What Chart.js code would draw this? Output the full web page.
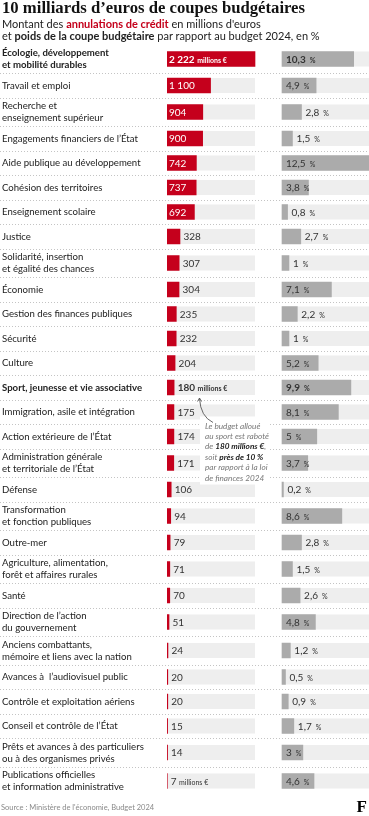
<!DOCTYPE html>
<html lang="fr">
<head>
<meta charset="utf-8">
<title>10 milliards d’euros de coupes budgétaires</title>
<script src="https://cdn.jsdelivr.net/npm/chart.js@4.4.0/dist/chart.umd.min.js"></script>
<style>
  html, body { margin: 0; padding: 0; background: #fff; }
  body { width: 369px; height: 816px; position: relative; overflow: hidden; font-family: Lato, sans-serif; }
  canvas { position: absolute; left: 0; top: 0; }
  #titre { position: absolute; left: 2px; top: -2px; margin: 0; font: bold 16.7px/20px "Liberation Serif", serif; color: #111; white-space: nowrap; }
  #sous-titre { position: absolute; left: 2px; top: 18px; margin: 0; font: 11px/12px Lato, sans-serif; color: #222; white-space: nowrap; }
  #sous-titre .rouge { color: #c4001a; font-weight: bold; }
  #sous-titre .gras { font-weight: bold; }
  #source { position: absolute; left: 1px; top: 803px; font: 7.5px Lato, sans-serif; color: #8a8a8a; white-space: nowrap; }
  #logo { position: absolute; right: 2px; top: 797px; font: bold 17px "Liberation Serif", serif; color: #000; }
</style>
</head>
<body>
<canvas id="chart" width="369" height="816"></canvas>
<h1 id="titre">10 milliards d’euros de coupes budgétaires</h1>
<p id="sous-titre">Montant des <span class="rouge">annulations de crédit</span> en millions d'euros<br>et <span class="gras">poids de la coupe budgétaire</span> par rapport au budget 2024, en %</p>
<div id="source">Source : Ministère de l'économie, Budget 2024</div>
<div id="logo">F</div>
<script>
// Missions budgétaires (libellés sur deux lignes quand il le faut)
const categories = [
  ['Écologie, développement', 'et mobilité durables'],
  'Travail et emploi',
  ['Recherche et', 'enseignement supérieur'],
  'Engagements financiers de l’État',
  'Aide publique au développement',
  'Cohésion des territoires',
  'Enseignement scolaire',
  'Justice',
  ['Solidarité, insertion', 'et égalité des chances'],
  'Économie',
  'Gestion des finances publiques',
  'Sécurité',
  'Culture',
  'Sport, jeunesse et vie associative',
  'Immigration, asile et intégration',
  'Action extérieure de l’État',
  ['Administration générale', 'et territoriale de l’État'],
  'Défense',
  ['Transformation', 'et fonction publiques'],
  'Outre-mer',
  ['Agriculture, alimentation,', 'forêt et affaires rurales'],
  'Santé',
  ['Direction de l’action', 'du gouvernement'],
  ['Anciens combattants,', 'mémoire et liens avec la nation'],
  'Avances à  l’audiovisuel public',
  'Contrôle et exploitation aériens',
  'Conseil et contrôle de l’État',
  ['Prêts et avances à des particuliers', 'ou à des organismes privés'],
  ['Publications officielles', 'et information administrative']
];

// Annulations de crédit, en millions d'euros
const credits = [2222, 1100, 904, 900, 742, 737, 692, 328, 307, 304, 235, 232, 204, 180,
  175, 174, 171, 106, 94, 79, 71, 70, 51, 24, 20, 20, 15, 14, 7];

// Poids de la coupe par rapport au budget 2024, en %
const percents = [10.3, 4.9, 2.8, 1.5, 12.5, 3.8, 0.8, 2.7, 1, 7.1, 2.2, 1, 5.2, 9.9,
  8.1, 5, 3.7, 0.2, 8.6, 2.8, 1.5, 2.6, 4.8, 1.2, 0.5, 0.9, 1.7, 3, 4.6];

// Lignes mises en avant, et lignes où l'unité est écrite
const boldRows = [0, 13];
const unitRows = [0, 13, 28];

const annotationLines = [
  [['Le budget alloué', false]],
  [['au sport est raboté', false]],
  [['de ', false], ['180 millions €', true], [',', false]],
  [['soit ', false], ['près de 10 %', true]],
  [['par rapport à la loi', false]],
  [['de finances 2024', false]]
];

/* Mise en page */
const RED = '#c5001c';
const GREY = '#ababab';
const TRACK = '#eeeeee';
const TEXT = '#333333';
const FONT = 'Lato, sans-serif';
const PLOT_LEFT = 167, RED_END = 255, GREY_START = 282, RIGHT = 369;
const ONE_LINE_H = 24.5, TWO_LINE_H = 28.5;
const BAR_H = 15;
const TOP = 44.75;

const redMax = Math.max(...credits);
const pctMax = Math.max(...percents);

/* Centre de chaque ligne, selon le nombre de lignes du libellé */
const rowHeights = categories.map(c => Array.isArray(c) ? TWO_LINE_H : ONE_LINE_H);
const rowStarts = [];
const rowCenters = [];
let acc = 0;
rowHeights.forEach(h => { rowStarts.push(acc); rowCenters.push(acc + h / 2); acc += h; });
const totalH = acc;

const fmtCredit = v => String(v).replace(/\B(?=(\d{3})+(?!\d))/g, ' ');
const fmtPct = v => String(v).replace('.', ',');

function drawValue(ctx, x, y, main, unit, gap, bold, color) {
  ctx.fillStyle = color;
  ctx.textAlign = 'left';
  ctx.textBaseline = 'middle';
  ctx.font = `${bold ? 'bold ' : ''}10px ${FONT}`;
  ctx.fillText(main, x, y);
  if (unit) {
    const w = ctx.measureText(main).width + gap;
    ctx.font = `${bold ? 'bold ' : ''}7px ${FONT}`;
    ctx.fillText(unit, x + w, y + 1);
  }
}

const decor = {
  id: 'decor',
  beforeDatasetsDraw(chart) {
    const {ctx} = chart;
    const {xa, xb, y} = chart.scales;
    ctx.save();
    /* séparateurs pointillés */
    ctx.strokeStyle = '#c4c4c4';
    ctx.lineWidth = 1;
    ctx.setLineDash([1, 2]);
    rowStarts.forEach((s, i) => {
      if (i === 0) return;
      const py = Math.round(y.getPixelForValue(s)) + 0.5;
      ctx.beginPath();
      ctx.moveTo(0, py);
      ctx.lineTo(RIGHT, py);
      ctx.stroke();
    });
    /* fonds des barres */
    ctx.fillStyle = TRACK;
    rowCenters.forEach(c => {
      const py = y.getPixelForValue(c) - BAR_H / 2;
      const a0 = xa.getPixelForValue(0), a1 = xa.getPixelForValue(redMax);
      const b0 = xb.getPixelForValue(0), b1 = xb.getPixelForValue(pctMax);
      ctx.fillRect(a0, py, a1 - a0, BAR_H);
      ctx.fillRect(b0, py, b1 - b0, BAR_H);
    });
    ctx.restore();
  },
  afterDatasetsDraw(chart) {
    const {ctx} = chart;
    const {y} = chart.scales;
    const redBars = chart.getDatasetMeta(0).data;
    const greyBars = chart.getDatasetMeta(1).data;
    ctx.save();
    credits.forEach((v, i) => {
      const bar = redBars[i];
      const bold = boldRows.includes(i);
      const unit = unitRows.includes(i) ? 'millions €' : '';
      if (v >= 600) {
        drawValue(ctx, bar.base + 2, bar.y + 0.5, fmtCredit(v), unit, 2.5, bold, '#ffffff');
      } else {
        drawValue(ctx, bar.x + 3.5, bar.y + 0.5, fmtCredit(v), unit, 2.5, bold, TEXT);
      }
    });
    percents.forEach((v, i) => {
      const bar = greyBars[i];
      const bold = boldRows.includes(i);
      const x = v >= 3 ? bar.base + 4 : bar.x + 4;
      drawValue(ctx, x, bar.y + 0.5, fmtPct(v), '%', 4, bold, TEXT);
    });

    /* annotation sur le sport */
    const ys = y.getPixelForValue(rowCenters[13]);
    const ax = chart.chartArea.left + 33;
    ctx.fillStyle = '#ffffff';
    ctx.fillRect(ax, ys + 29, 70, 68);
    ctx.strokeStyle = '#444';
    ctx.lineWidth = 0.8;
    ctx.setLineDash([]);
    ctx.beginPath();
    ctx.moveTo(ax - 0.5, ys + 11);
    ctx.quadraticCurveTo(ax + 0.5, ys + 29, ax + 13, ys + 35);
    ctx.stroke();
    ctx.beginPath();
    ctx.moveTo(ax - 2.5, ys + 14);
    ctx.lineTo(ax - 0.5, ys + 10.5);
    ctx.lineTo(ax + 1.5, ys + 14);
    ctx.stroke();
    ctx.textAlign = 'left';
    ctx.textBaseline = 'middle';
    annotationLines.forEach((line, k) => {
      let x = ax + 5;
      const ly = ys + 38.5 + k * 10.4;
      line.forEach(([txt, strong]) => {
        ctx.font = `italic ${strong ? 'bold ' : ''}8.2px ${FONT}`;
        ctx.fillStyle = strong ? '#222' : '#777';
        ctx.fillText(txt, x, ly);
        x += ctx.measureText(txt).width;
      });
    });
    ctx.restore();
  }
};

new Chart(document.getElementById('chart'), {
  type: 'bar',
  data: {
    datasets: [
      {
        label: 'Annulations de crédit',
        data: credits.map((v, i) => ({x: v, y: rowCenters[i]})),
        xAxisID: 'xa',
        backgroundColor: RED,
        barThickness: BAR_H,
        grouped: false
      },
      {
        label: 'Poids de la coupe',
        data: percents.map((v, i) => ({x: v, y: rowCenters[i]})),
        xAxisID: 'xb',
        backgroundColor: GREY,
        barThickness: BAR_H,
        grouped: false
      }
    ]
  },
  options: {
    indexAxis: 'y',
    responsive: false,
    animation: false,
    devicePixelRatio: 1,
    layout: {padding: {left: 2, right: 0, top: TOP, bottom: 816 - TOP - totalH}},
    plugins: {legend: {display: false}, tooltip: {enabled: false}},
    scales: {
      xa: {
        axis: 'x', type: 'linear', display: false, min: 0,
        max: redMax * (RIGHT - PLOT_LEFT) / (RED_END - PLOT_LEFT)
      },
      xb: {
        axis: 'x', type: 'linear', display: false,
        min: -pctMax * (GREY_START - PLOT_LEFT) / (RIGHT - GREY_START),
        max: pctMax
      },
      y: {
        type: 'linear', position: 'left', reverse: true, min: 0, max: totalH,
        offset: false,
        afterBuildTicks: s => { s.ticks = rowCenters.map(v => ({value: v})); },
        afterFit: s => { s.width = PLOT_LEFT - 2; s.paddingTop = 0; s.paddingBottom = 0; },
        border: {display: false},
        grid: {display: false, drawTicks: false, offset: false},
        ticks: {
          autoSkip: false,
          crossAlign: 'far',
          padding: 0,
          color: '#222',
          callback: (v, i) => categories[i],
          font: c => ({family: FONT, size: 9.6, lineHeight: 1.25,
            weight: boldRows.includes(c.index) ? 'bold' : 'normal'})
        }
      }
    }
  },
  plugins: [decor]
});
</script>
</body>
</html>
